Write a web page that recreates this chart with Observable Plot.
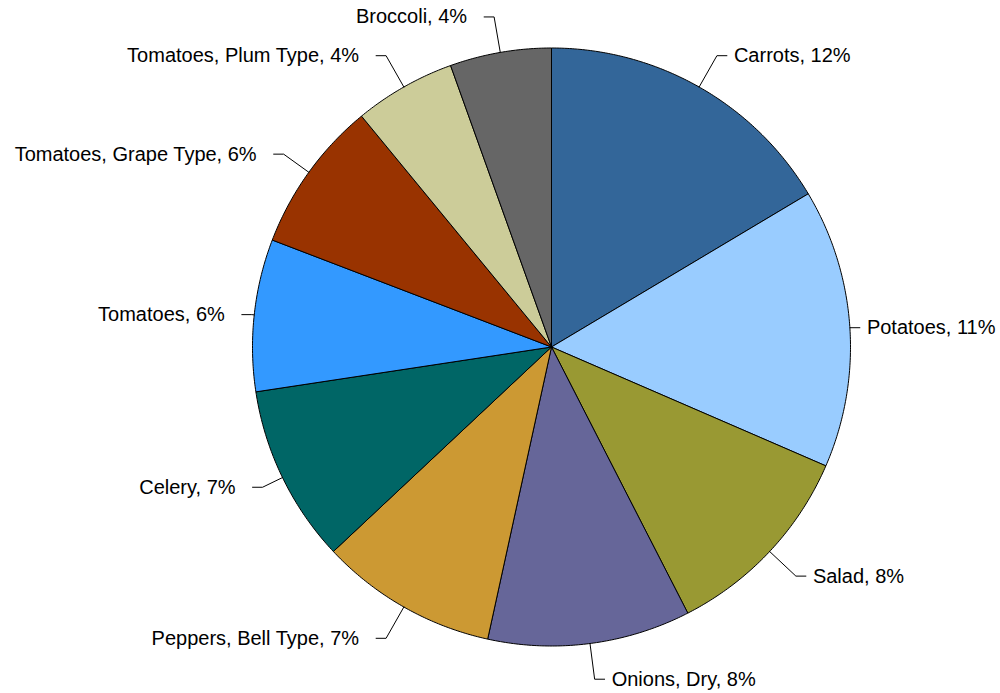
<!DOCTYPE html>
<html><head><meta charset="utf-8">
<script src="https://cdn.jsdelivr.net/npm/d3@7"></script>
<script src="https://cdn.jsdelivr.net/npm/@observablehq/plot@0.6"></script>
<style>body{margin:0;background:#fff} svg{display:block}</style>
</head><body><div id="chart"></div>
<script>
const categories = ["Carrots","Potatoes","Salad","Onions, Dry","Peppers, Bell Type","Celery","Tomatoes","Tomatoes, Grape Type","Tomatoes, Plum Type","Broccoli"];
const shares = [12, 11, 8, 8, 7, 7, 6, 6, 4, 4];
const palette = ["#336699","#99CCFF","#999933","#666699","#CC9933","#006666","#3399FF","#993300","#CCCC99","#666666"];

const W = 1000, H = 693, cx = 551, cy = 346.5, R = 299;
const arcs = d3.pie().sort(null).value(d => d)(shares);

// slice outlines in unit-radius coordinates (y pointing down)
const slicePts = [];
arcs.forEach((a, i) => {
  const name = categories[i];
  const n = Math.max(2, Math.ceil((a.endAngle - a.startAngle) / (Math.PI / 360)));
  slicePts.push({name, x: 0, y: 0});
  for (let k = 0; k <= n; k++) {
    const t = a.startAngle + (a.endAngle - a.startAngle) * k / n;
    slicePts.push({name, x: Math.sin(t), y: -Math.cos(t)});
  }
  slicePts.push({name, x: 0, y: 0});
});

// leader lines and labels
const leaderPts = [];
const labels = [];
arcs.forEach((a, i) => {
  const name = categories[i];
  const m = (a.startAngle + a.endAngle) / 2;
  const s = Math.sin(m), c = -Math.cos(m);
  const L = Math.min(36, Math.max(0, 60 * Math.abs(c) - 4)) / R;
  const right = s >= 0;
  const ex = (1 + L) * s, ey = (1 + L) * c;
  const hx = ex + (right ? 10 : -10) / R;
  leaderPts.push({name, x: s, y: c}, {name, x: ex, y: ey}, {name, x: hx, y: ey});
  labels.push({name, right, x: hx, y: ey, text: `${name}, ${shares[i]}%`});
});

const chart = Plot.plot({
  width: W, height: H,
  margin: 0,
  x: {domain: [-cx / R, (W - cx) / R], range: [0, W], axis: null},
  y: {domain: [-cy / R, (H - cy) / R], range: [0, H], axis: null},
  color: {type: "ordinal", domain: categories, range: palette},
  style: {background: "#fff", fontFamily: "'Liberation Sans', Arial, sans-serif", overflow: "visible"},
  marks: [
    Plot.line(slicePts, {x: "x", y: "y", z: "name", fill: "name", stroke: "#000", strokeWidth: 1, strokeLinejoin: "miter", strokeMiterlimit: 4}),
    Plot.line(leaderPts, {x: "x", y: "y", z: "name", stroke: "#000", strokeWidth: 1, strokeLinejoin: "miter"}),
    Plot.text(labels.filter(d => d.right), {x: "x", y: "y", text: "text", textAnchor: "start", dx: 7, fontSize: 20, fill: "#000"}),
    Plot.text(labels.filter(d => !d.right), {x: "x", y: "y", text: "text", textAnchor: "end", dx: -17, fontSize: 20, fill: "#000"})
  ]
});
document.getElementById("chart").appendChild(chart);
</script>
</body></html>
